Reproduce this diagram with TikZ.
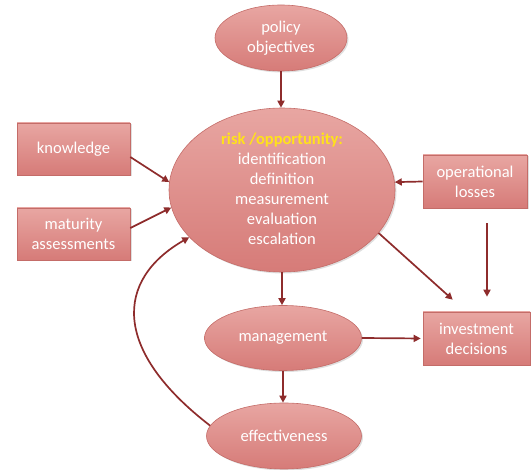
\documentclass[tikz,border=0pt]{standalone}
\usepackage{fontspec}
\setmainfont{Carlito}
\usetikzlibrary{shapes.geometric,arrows.meta,shadows,calc}
\definecolor{nodetop}{HTML}{E8A6A2}
\definecolor{nodebot}{HTML}{D67B78}
\definecolor{nodeline}{HTML}{C46C68}
\definecolor{arrowred}{HTML}{8E2C2C}
\definecolor{headyellow}{HTML}{FFE21A}
\tikzset{
  basenode/.style={draw=nodeline, line width=0.6pt, top color=nodetop, bottom color=nodebot,
    text=white, inner sep=0pt, font=\fontsize{16.5}{20}\selectfont, align=center,
    drop shadow={opacity=0.25, shadow xshift=1.5pt, shadow yshift=-1.5pt}},
  ellnode/.style={basenode, ellipse},
  boxnode/.style={basenode, rectangle},
  arr/.style={draw=arrowred, line width=1.7pt, -{Triangle[length=7pt,width=7pt]}},
}
\begin{document}
\begin{tikzpicture}[x=1pt,y=-1pt]
\useasboundingbox (0,0) rectangle (531,470);
\node[ellnode, minimum width=132pt, minimum height=66pt] (pol) at (281,38) {policy\\objectives};
\node[ellnode, minimum width=226pt, minimum height=164pt, align=none] (main) at (282,190)
  {\smash{\raisebox{-4.5pt}{\begin{tabular}{@{}c@{}}\textcolor{headyellow}{\bfseries risk /opportunity:}\\identification\\definition\\measurement\\evaluation\\escalation\end{tabular}}}};
\node[boxnode, minimum width=113pt, minimum height=52pt] (know) at (73.5,149) {knowledge};
\node[boxnode, minimum width=113pt, minimum height=52pt] (mat) at (73.5,234) {maturity\\assessments};
\node[boxnode, minimum width=104pt, minimum height=53pt] (op) at (475,181.5) {operational\\losses};
\node[boxnode, minimum width=107pt, minimum height=53pt] (inv) at (476.5,338.5) {investment\\decisions};
\node[ellnode, minimum width=157pt, minimum height=65pt] (mgmt) at (283,338) {management};
\node[ellnode, minimum width=155pt, minimum height=66pt] (eff) at (284,436) {effectiveness};
\coordinate (invtip) at ($(inv.north west)+(30,-12)$);

\draw[arr] (pol.south) -- (pol.south |- main.north);
\draw[arr] (know.-8) -- (main.176);
\draw[arr] (mat.6) -- (main.189);
\draw[arr] (op.west) -- (main.4);
\draw[arr, shorten <=15pt, shorten >=15pt] ([xshift=12pt]op.south) -- ([xshift=12pt]op.south |- inv.north);
\draw[arr] (main.-24) -- (invtip);
\draw[arr] (main.south) -- (main.south |- mgmt.north);
\draw[arr, shorten >=2pt] (mgmt.east) -- (inv.west);
\draw[arr] (mgmt.south) -- (mgmt.south |- eff.north);
\draw[arr] (eff.172) .. controls (112,350) and (115,280) .. (main.207);
\end{tikzpicture}
\end{document}
